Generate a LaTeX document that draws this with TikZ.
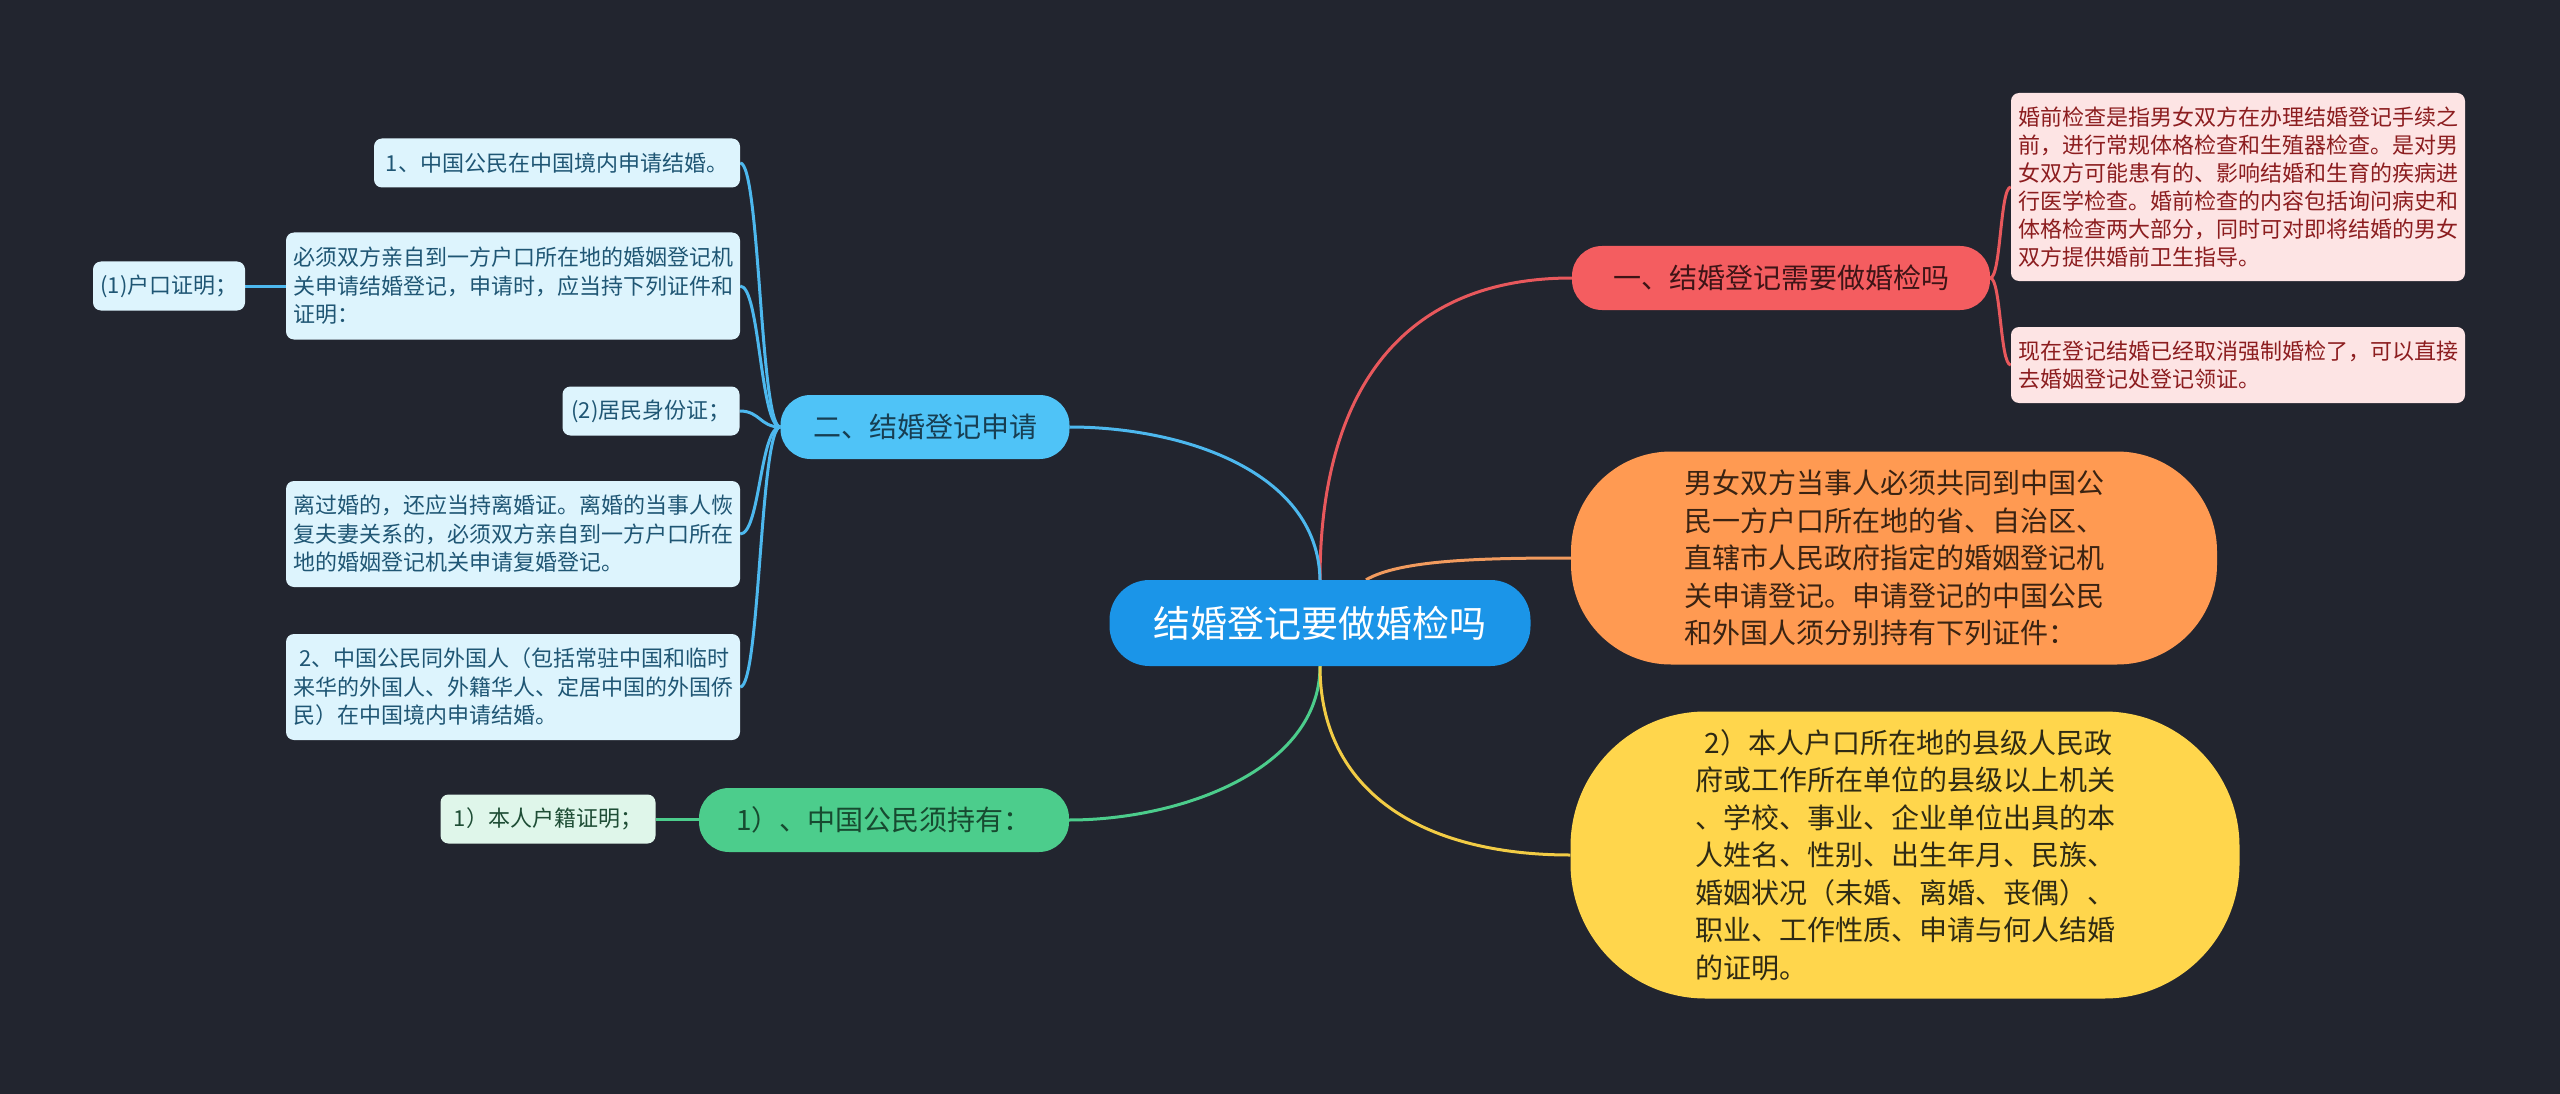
\documentclass[tikz,border=0pt]{standalone}
\usepackage{fontspec}
\setmainfont{Noto Sans CJK SC}
\definecolor{bgc}{HTML}{22252F}
\definecolor{cCenter}{HTML}{1B95E8}
\definecolor{cRed}{HTML}{F45D60}
\definecolor{cRedLine}{HTML}{E8585C}
\definecolor{cRedTxt}{HTML}{3E1416}
\definecolor{cRedLeaf}{HTML}{FDE4E4}
\definecolor{cRedLeafTxt}{HTML}{8C1D1F}
\definecolor{cOrange}{HTML}{FF9A52}
\definecolor{cOrangeLine}{HTML}{F29B5E}
\definecolor{cOrangeTxt}{HTML}{3A2312}
\definecolor{cYellow}{HTML}{FFD64C}
\definecolor{cYellowLine}{HTML}{F2CC45}
\definecolor{cYellowTxt}{HTML}{2E2A14}
\definecolor{cBlue}{HTML}{4FC3F7}
\definecolor{cBlueLine}{HTML}{4DB8EE}
\definecolor{cBlueTxt}{HTML}{173E52}
\definecolor{cBlueLeaf}{HTML}{DDF4FD}
\definecolor{cBlueLeafTxt}{HTML}{1F5674}
\definecolor{cGreen}{HTML}{4CCD8C}
\definecolor{cGreenTxt}{HTML}{174A30}
\definecolor{cGreenLeaf}{HTML}{DFF6EA}
\definecolor{cGreenLeafTxt}{HTML}{1E4D35}
\pgfdeclarelayer{bglayer}
\pgfsetlayers{bglayer,main}
\begin{document}
\begin{tikzpicture}[x=1pt,y=-1pt,
  box/.style={inner sep=0pt, align=left, anchor=center},
  ctr/.style={box, fill=cCenter, text=white, minimum width=421pt, minimum height=86pt, rounded corners=40pt, font=\fontsize{37}{44}\selectfont},
  branch/.style={box, minimum height=64pt, rounded corners=30pt, font=\fontsize{28}{34}\selectfont},
  bigbox/.style={box, font=\fontsize{28}{37.5}\selectfont},
  leaf/.style={box, rounded corners=8pt, font=\fontsize{22}{28.5}\selectfont},
  redleaf/.style={leaf, fill=cRedLeaf, text=cRedLeafTxt, minimum width=454pt, font=\fontsize{22}{28}\selectfont},
  blueleaf/.style={leaf, fill=cBlueLeaf, text=cBlueLeafTxt},
  conn/.style={line width=3pt},
]
\begin{pgfonlayer}{bglayer}
\fill[bgc] (0,0) rectangle (2560,1094);
\end{pgfonlayer}
\useasboundingbox (0,0) rectangle (2560,1094);

% center
\node[ctr] (c) at (1320,623) {结婚登记要做婚检吗};

% red branch
\node[branch, fill=cRed, text=cRedTxt, minimum width=418pt] (rb) at (1781,278) {一、结婚登记需要做婚检吗};
\node[redleaf, minimum height=188pt] (r1) at (2238,187) {婚前检查是指男女双方在办理结婚登记手续之\\前，进行常规体格检查和生殖器检查。是对男\\女双方可能患有的、影响结婚和生育的疾病进\\行医学检查。婚前检查的内容包括询问病史和\\体格检查两大部分，同时可对即将结婚的男女\\双方提供婚前卫生指导。};
\node[redleaf, minimum height=76pt] (r2) at (2238,365) {现在登记结婚已经取消强制婚检了，可以直接\\去婚姻登记处登记领证。};

% orange
\node[bigbox, fill=cOrange, text=cOrangeTxt, minimum width=646pt, minimum height=213pt, rounded corners=100pt] (o) at (1894,558) {男女双方当事人必须共同到中国公\\民一方户口所在地的省、自治区、\\直辖市人民政府指定的婚姻登记机\\关申请登记。申请登记的中国公民\\和外国人须分别持有下列证件：};

% yellow
\node[bigbox, fill=cYellow, text=cYellowTxt, minimum width=669pt, minimum height=287pt, rounded corners=135pt] (y) at (1905,855) {\hspace{0.35em}2）本人户口所在地的县级人民政\\府或工作所在单位的县级以上机关\\、学校、事业、企业单位出具的本\\人姓名、性别、出生年月、民族、\\婚姻状况（未婚、离婚、丧偶）、\\职业、工作性质、申请与何人结婚\\的证明。};

% blue branch
\node[branch, fill=cBlue, text=cBlueTxt, minimum width=289pt] (bb) at (925,427) {二、结婚登记申请};
\node[blueleaf, minimum width=366pt, minimum height=49pt] (l1) at (557,163) {1、中国公民在中国境内申请结婚。};
\node[blueleaf, minimum width=454pt, minimum height=107pt] (l2) at (513,286) {必须双方亲自到一方户口所在地的婚姻登记机\\关申请结婚登记，申请时，应当持下列证件和\\证明：};
\node[blueleaf, minimum width=152pt, minimum height=49pt] (l3) at (169,286) {(1)户口证明；};
\node[blueleaf, minimum width=177pt, minimum height=49pt] (l4) at (651,411) {(2)居民身份证；};
\node[blueleaf, minimum width=454pt, minimum height=106pt] (l5) at (513,534) {离过婚的，还应当持离婚证。离婚的当事人恢\\复夫妻关系的，必须双方亲自到一方户口所在\\地的婚姻登记机关申请复婚登记。};
\node[blueleaf, minimum width=454pt, minimum height=106pt] (l6) at (513,687) {\hspace{0.3em}2、中国公民同外国人（包括常驻中国和临时\\来华的外国人、外籍华人、定居中国的外国侨\\民）在中国境内申请结婚。};

% green
\node[branch, fill=cGreen, text=cGreenTxt, minimum width=370pt] (gb) at (884,820) {1）、中国公民须持有：};
\node[leaf, fill=cGreenLeaf, text=cGreenLeafTxt, minimum width=215pt, minimum height=49pt] (gl) at (548,819) {1）本人户籍证明；};

\begin{pgfonlayer}{bglayer}
% center connectors
\draw[conn, cRedLine] (c.north) .. controls (1320,400) and (1395,278) .. (rb.west);
\draw[conn, cBlueLine] (c.north) .. controls (1318,470) and (1180,427) .. (bb.east);
\draw[conn, cOrangeLine] ([xshift=46pt]c.north) .. controls (1400,560) and (1480,558) .. (o.west);
\draw[conn, cGreen] (c.south) .. controls (1320,770) and (1180,820) .. (gb.east);
\draw[conn, cYellowLine] (c.south) .. controls (1320,790) and (1420,855) .. (y.west);
% red leaves
\draw[conn, cRedLine] (rb.east) .. controls (2001,278) and (2000,187) .. (r1.west);
\draw[conn, cRedLine] (rb.east) .. controls (2001,278) and (2000,365) .. (r2.west);
% blue leaves
\draw[conn, cBlueLine] (bb.west) .. controls (760,427) and (760,163) .. (l1.east);
\draw[conn, cBlueLine] (bb.west) .. controls (760,427) and (760,286) .. (l2.east);
\draw[conn, cBlueLine] (bb.west) .. controls (760,427) and (760,411) .. (l4.east);
\draw[conn, cBlueLine] (bb.west) .. controls (760,427) and (760,534) .. (l5.east);
\draw[conn, cBlueLine] (bb.west) .. controls (760,427) and (760,687) .. (l6.east);
\draw[conn, cBlueLine] (l2.west) -- (l3.east);
% green leaf
\draw[conn, cGreen] (gl.east) -- (gl.east -| gb.west);
\end{pgfonlayer}
\end{tikzpicture}
\end{document}
